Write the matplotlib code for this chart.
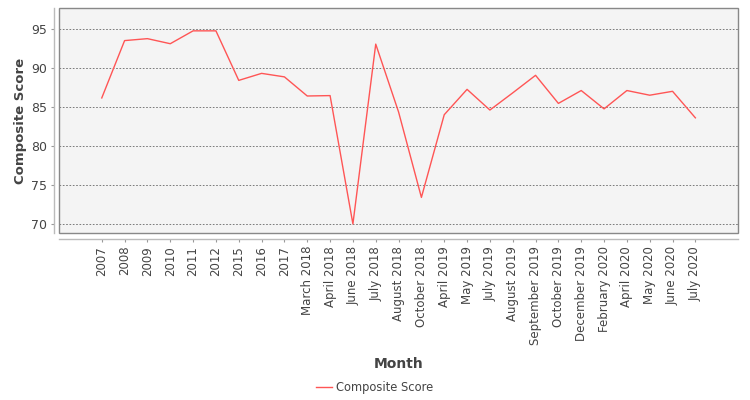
import matplotlib
matplotlib.use("Agg")
import matplotlib.pyplot as plt
from matplotlib.patches import Rectangle

categories = ["2007", "2008", "2009", "2010", "2011", "2012", "2015", "2016", "2017",
              "March 2018", "April 2018", "June 2018", "July 2018", "August 2018",
              "October 2018", "April 2019", "May 2019", "July 2019", "August 2019",
              "September 2019", "October 2019", "December 2019", "February 2020",
              "April 2020", "May 2020", "June 2020", "July 2020"]
composite_score = [86.2, 93.55, 93.8, 93.15, 94.8, 94.8, 88.45, 89.35, 88.9,
                   86.45, 86.5, 70.05, 93.1, 84.4, 73.45, 84.05, 87.3, 84.65,
                   86.85, 89.1, 85.5, 87.15, 84.8, 87.15, 86.55, 87.05, 83.65]
y_ticks = [70, 75, 80, 85, 90, 95]

W, H = 750, 400
fig = plt.figure(figsize=(7.5, 4), dpi=100)
fig.patch.set_facecolor("white")
L, R, T, B = 59.3, 738.3, 8.3, 233.3
ax = fig.add_axes([L / W, 1 - B / H, (R - L) / W, (B - T) / H])
ax.set_facecolor("#f4f4f4")

x = list(range(len(categories)))
ax.plot(x, composite_score, color="#ff5555", lw=1.0, label="Composite Score", zorder=3)

ax.set_xlim(-1.86, len(categories) - 1 + 1.88)
ax.set_ylim(68.85, 97.69)
ax.set_yticks(y_ticks)
ax.set_xticks(x)
ax.set_xticklabels(categories)

ax.grid(axis="y", color="#666666", linestyle=(0, (2, 2)), lw=0.6)
ax.set_axisbelow(True)

for s in ["top", "right"]:
    ax.spines[s].set_visible(False)
for s in ["left", "bottom"]:
    ax.spines[s].set_position(("outward", 4))
    ax.spines[s].set_color("#bbbbbb")
    ax.spines[s].set_linewidth(1.0)
ax.add_patch(Rectangle((0, 0), 1, 1, transform=ax.transAxes, fill=False,
                       ec="#888888", lw=1.0, clip_on=False, zorder=4))

ax.tick_params(axis="x", length=2, width=0.8, color="#999999", pad=3,
               labelsize=8.5, labelcolor="#444444", labelrotation=90)
ax.tick_params(axis="y", length=2, width=0.8, color="#999999", pad=3,
               labelsize=9, labelcolor="#444444")
for lbl in ax.get_xticklabels():
    lbl.set_rotation(90)
    lbl.set_ha("center")
    lbl.set_va("top")

fig.text(20.5 / W, 1 - 120.5 / H, "Composite Score", rotation=90, ha="center", va="center",
         fontsize=9.5, fontweight="bold", color="#444444")
fig.text(398.5 / W, 1 - 364 / H, "Month", ha="center", va="center",
         fontsize=10, fontweight="bold", color="#444444")

leg = fig.legend(loc="center", bbox_to_anchor=(0.5, 1 - 388 / H), frameon=False,
                 fontsize=8.3, handlelength=1.4, handletextpad=0.35, labelcolor="#444444")

fig.savefig("out.png", dpi=100)
